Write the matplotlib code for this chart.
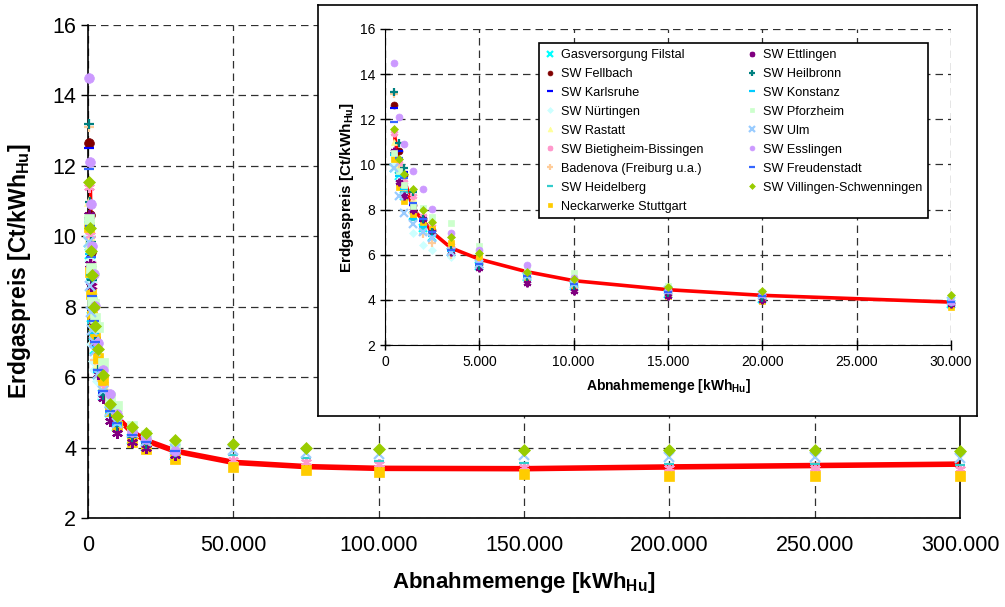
"""Erdgaspreis vs. Abnahmemenge, main chart with zoomed inset."""
import numpy as np
import matplotlib
matplotlib.use("Agg")
import matplotlib.pyplot as plt
from matplotlib.ticker import FuncFormatter

plt.rcParams["font.family"] = ["Liberation Sans", "DejaVu Sans"]
plt.rcParams["mathtext.fontset"] = "custom"
plt.rcParams["mathtext.rm"] = "Liberation Sans"
plt.rcParams["mathtext.bf"] = "Liberation Sans:bold"

nan = np.nan
menge = [500, 750, 1000, 1500, 2000, 2500, 3500, 5000, 7500, 10000, 15000, 20000,
         30000, 50000, 75000, 100000, 150000, 200000, 250000, 300000]

filstal = [9.85, 9.5, 8.6, 7.7, 7.2, 6.8, 6.1, 5.5, 5.0, 4.6, 4.25, 4.05, 3.8] + [nan] * 7
fellbach = [12.65, 10.6, 9.55, 8.2, 7.6, 7.1, 6.2, 5.6, 5.0, 4.6, 4.3, 4.1, 3.85] + [nan] * 7
karlsruhe = [12.5, 10.6, 9.65, 8.2, 7.5, 6.9, 6.2, 5.55, 5.0, 4.65, 4.3, 4.1, 3.9] + [nan] * 7
nuertingen = [10.0, 9.3, 8.7, 6.95, 6.45, 6.2, 5.9, 5.45, 4.95, 4.6, 4.3, 4.05, 3.8] + [nan] * 7
rastatt = [11.0, 10.0, 9.0, 8.5, 7.6, 7.2, 6.4, 5.8, 5.1, 4.75, 4.4, 4.15, 3.85] + [nan] * 7
bietigheim = [11.4, 10.05, 9.2, 8.6, 7.7, 7.35, 6.45, 5.8, 5.1, 4.75, 4.35, 4.15, 3.85,
              3.65, 3.6, 3.53, 3.46, 3.43, 3.42, 3.4]
badenova = [13.1, 9.8, 8.95, 7.85, 6.93, 6.5, 6.0, 5.5, 5.0, 4.6, 4.3, 4.1, 3.8] + [nan] * 7
heidelberg = [10.5, 9.6, 8.8, 7.55, 7.2, 6.95, 6.2, 5.6, 5.05, 4.7, 4.35, 4.15, 3.95,
              3.78, 3.69, 3.62, 3.57, 3.53, 3.52, 3.5]
neckarwerke = [10.25, 9.0, 8.37, 7.75, 7.46, 7.12, 6.54, 5.92, 5.03, 4.62, 4.17, 3.95, 3.67,
               3.46, 3.37, 3.31, 3.24, 3.2, 3.2, 3.18]
ettlingen = [10.6, 9.2, 8.6, 8.0, 7.6, 7.0, 6.1, 5.4, 4.76, 4.41, 4.15, 4.0, 3.8] + [nan] * 7
heilbronn = [13.2, 10.97, 9.84, 8.76, 7.6, 7.0, 6.2, 5.5, 5.0, 4.6, 4.3, 4.1, 3.85] + [nan] * 7
konstanz = [10.4, 9.5, 8.9, 7.6, 7.25, 6.85, 6.15, 5.6, 5.0, 4.65, 4.35, 4.15, 3.95] + [nan] * 7
pforzheim = [10.5, 9.7, 9.1, 8.15, 8.07, 7.68, 7.41, 6.39, 5.45, 5.18, 4.6, 4.35, 4.1] + [nan] * 7
ulm = [9.85, 8.6, 7.85, 7.34, 7.0, 6.75, 6.1, 5.6, 5.05, 4.7, 4.45, 4.2, 3.95,
       3.93, 3.84, 3.81, 3.78, 3.74, 3.72, 3.7]
esslingen = [14.5, 12.12, 10.91, 9.72, 8.93, 8.03, 6.97, 6.19, 5.53, 4.95, 4.44, 4.25, 3.9] + [nan] * 7
freudenstadt = [11.9, 10.3, 9.4, 8.3, 7.6, 7.0, 6.2, 5.6, 5.05, 4.7, 4.35, 4.15, 3.9] + [nan] * 7
villingen = [11.55, 10.24, 9.57, 8.9, 8.0, 7.44, 6.8, 6.07, 5.25, 4.91, 4.58, 4.4, 4.22,
             4.09, 4.0, 3.97, 3.93, 3.93, 3.92, 3.9]

mittel = [11.3, 10.1, 9.4, 8.0, 7.55, 7.0, 6.3, 5.8, 5.25, 4.85, 4.45, 4.2, 3.9,
          3.58, 3.46, 3.41, 3.4, 3.45, 3.49, 3.53]

ASTER = (6, 2, 0)
series = [
    ("Gasversorgung Filstal", filstal, "x", "#00FFFF"),
    ("SW Fellbach", fellbach, "o", "#800000"),
    ("SW Karlsruhe", karlsruhe, "_", "#0000FF"),
    ("SW Nürtingen", nuertingen, "D", "#CCFFFF"),
    ("SW Rastatt", rastatt, "^", "#FFFF99"),
    ("SW Bietigheim-Bissingen", bietigheim, ASTER, "#FF99CC"),
    ("Badenova (Freiburg u.a.)", badenova, "+", "#FFCC99"),
    ("SW Heidelberg", heidelberg, "_", "#33CCCC"),
    ("Neckarwerke Stuttgart", neckarwerke, "s", "#FFCC00"),
    ("SW Ettlingen", ettlingen, ASTER, "#800080"),
    ("SW Heilbronn", heilbronn, "+", "#008080"),
    ("SW Konstanz", konstanz, "_", "#00CCFF"),
    ("SW Pforzheim", pforzheim, "s", "#CCFFCC"),
    ("SW Ulm", ulm, "x", "#99CCFF"),
    ("SW Esslingen", esslingen, "o", "#CC99FF"),
    ("SW Freudenstadt", freudenstadt, "_", "#3366FF"),
    ("SW Villingen-Schwenningen", villingen, "D", "#99CC00"),
]

thousands = FuncFormatter(lambda v, p: f"{int(v):,}".replace(",", "."))
dash = (0, (6, 4))


def draw(ax, size, lw_line):
    ax.plot(menge, mittel, color="#FF0000", lw=lw_line, zorder=2)
    for name, vals, marker, color in series:
        line_marker = marker in ("x", "+", "_", ASTER)
        msize = size * (1.1 if line_marker else 1.0)
        if marker == "D":
            msize = size * 0.85
        ax.plot(menge, vals, ls="none", marker=marker, color=color,
                markersize=msize,
                markeredgewidth=(1.6 if line_marker else 0.5),
                markeredgecolor=color, label=name, zorder=3, clip_on=False)
    ax.set_ylim(2, 16)
    ax.set_yticks(range(2, 17, 2))
    ax.xaxis.set_major_formatter(thousands)
    ax.grid(True, color="#303030", lw=0.9, ls=dash)
    ax.spines["top"].set_visible(False)
    ax.set_axisbelow(True)


fig = plt.figure(figsize=(10.05, 6.07), dpi=100)

ax = fig.add_axes([88 / 1005, 1 - 518 / 607, 872 / 1005, 493 / 607])
draw(ax, 7, 4)
ax.set_xlim(0, 300000)
ax.set_xticks(range(0, 300001, 50000))
ax.tick_params(labelsize=15.5, direction="out", length=5, width=1)
ax.tick_params(axis="x", length=0, pad=12)
for s in ("left", "bottom", "right"):
    ax.spines[s].set_linewidth(1.2)
ax.set_xlabel(r"Abnahmemenge [kWh$_{\mathbf{Hu}}$]", fontsize=16, fontweight="bold", labelpad=10)
ax.set_ylabel(r"Erdgaspreis [Ct/kWh$_{\mathbf{Hu}}$]", fontsize=16.5, fontweight="bold", labelpad=14)

box = fig.add_axes([318 / 1005, 1 - 416 / 607, 659 / 1005, 411 / 607])
box.set_xticks([])
box.set_yticks([])
box.set_facecolor("white")
for s in box.spines.values():
    s.set_linewidth(1.2)

ins = fig.add_axes([385 / 1005, 1 - 345 / 607, 566 / 1005, 316 / 607])
draw(ins, 5, 2.6)
ins.set_xlim(0, 30000)
ins.set_xticks(range(0, 30001, 5000))
ins.spines["right"].set_visible(False)
ins.tick_params(labelsize=10, direction="inout", length=7, width=1)
ins.set_xlabel(r"Abnahmemenge [kWh$_{\mathbf{Hu}}$]", fontsize=10, fontweight="bold", labelpad=6)
ins.set_ylabel(r"Erdgaspreis [Ct/kWh$_{\mathbf{Hu}}$]", fontsize=11, fontweight="bold", labelpad=3)

handles, labels = ins.get_legend_handles_labels()
leg = ins.legend(handles, labels, ncol=2, fontsize=9.1, loc="upper left",
                 bbox_to_anchor=((533 - 385) / 566, (345 - 37) / 316),
                 frameon=True, fancybox=False, edgecolor="black", framealpha=1,
                 markerscale=0.7, handlelength=0.8, handletextpad=0.5,
                 columnspacing=3.4, labelspacing=0.55, borderpad=0.45)
leg.get_frame().set_linewidth(1.2)
leg.set_zorder(10)

fig.savefig("out.png", dpi=100)
